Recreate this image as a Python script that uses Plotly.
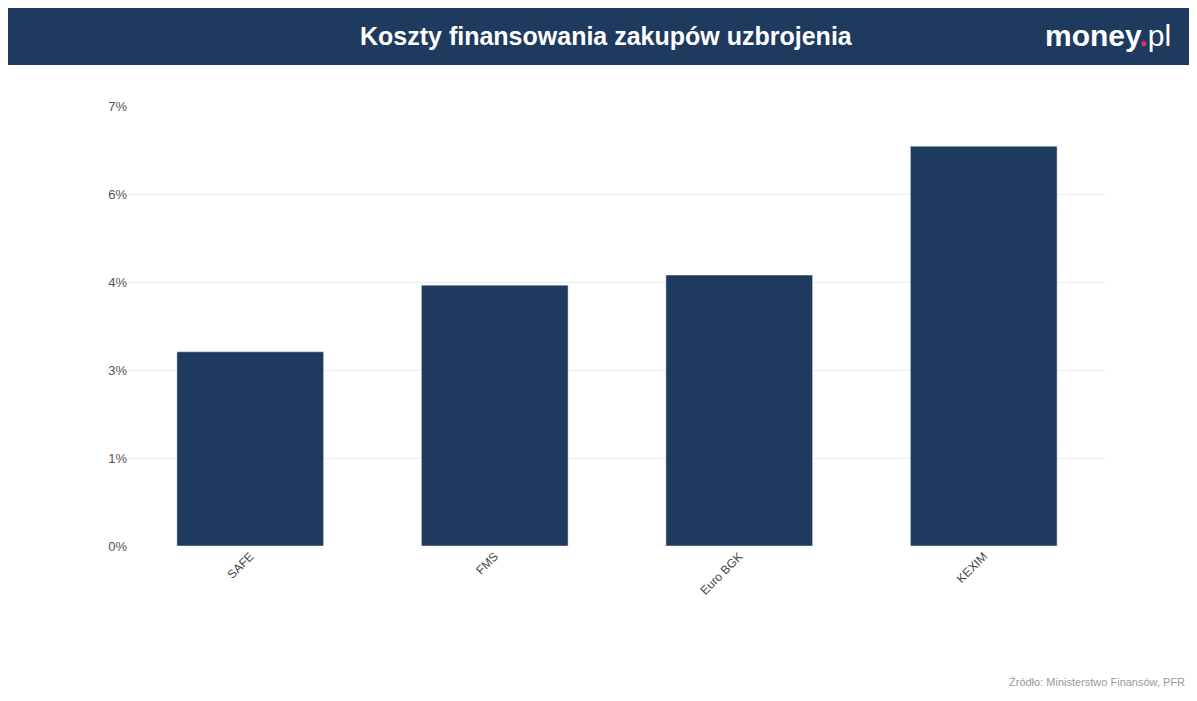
import plotly.graph_objects as go

# data
categories = ["SAFE", "FMS", "Euro BGK", "KEXIM"]
values = [3.09, 4.15, 4.31, 6.36]
tick_vals = [0, 1.4, 2.8, 4.2, 5.6, 7.0]
tick_text = ["0%", "1%", "3%", "4%", "6%", "7%"]

navy = "#1f3a5f"

fig = go.Figure()
fig.add_trace(go.Bar(x=categories, y=values, marker_color=navy, width=0.6,
                     hovertemplate="%{x}: %{y:.2f}%<extra></extra>"))

fig.update_layout(
    width=1197, height=701,
    margin=dict(l=120, r=99, t=98, b=163),
    plot_bgcolor="white", paper_bgcolor="white",
    font=dict(family="Arial, Liberation Sans, sans-serif", color="#555", size=13),
    showlegend=False,
)
fig.update_yaxes(range=[0, 7], tickvals=tick_vals, ticktext=tick_text,
                 gridcolor="#ebebeb", zeroline=False, ticks="", ticklen=0,
                 tickfont=dict(size=13, color="#555"))
fig.update_xaxes(tickangle=-45, showline=False, tickfont=dict(size=12, color="#444"))

# header band
fig.add_shape(type="rect", xref="paper", yref="paper", x0=-1, x1=2,
              y0=1 + 41/440, y1=1 + 98/440, fillcolor=navy, line_width=0, layer="below")
fig.add_annotation(text="<b>Koszty finansowania zakupów uzbrojenia</b>",
                   xref="paper", yref="paper", x=(598 - 120) / 978, y=1 + 70/440,
                   showarrow=False, font=dict(size=25, color="white"), xanchor="center", yanchor="middle")
fig.add_annotation(text="<b>money</b><span style='color:#e5326e'><b>.</b></span>pl",
                   xref="paper", yref="paper", x=(1165 - 120) / 978, y=1 + 70/440,
                   showarrow=False, font=dict(size=30, color="white"), xanchor="right", yanchor="middle")
fig.add_annotation(text="Źródło: Ministerstwo Finansów, PFR",
                   xref="paper", yref="paper", x=(1179 - 120) / 978, y=-136/440,
                   showarrow=False, font=dict(size=11, color="#999"), xanchor="right", yanchor="middle")

fig.write_html("out.html")
